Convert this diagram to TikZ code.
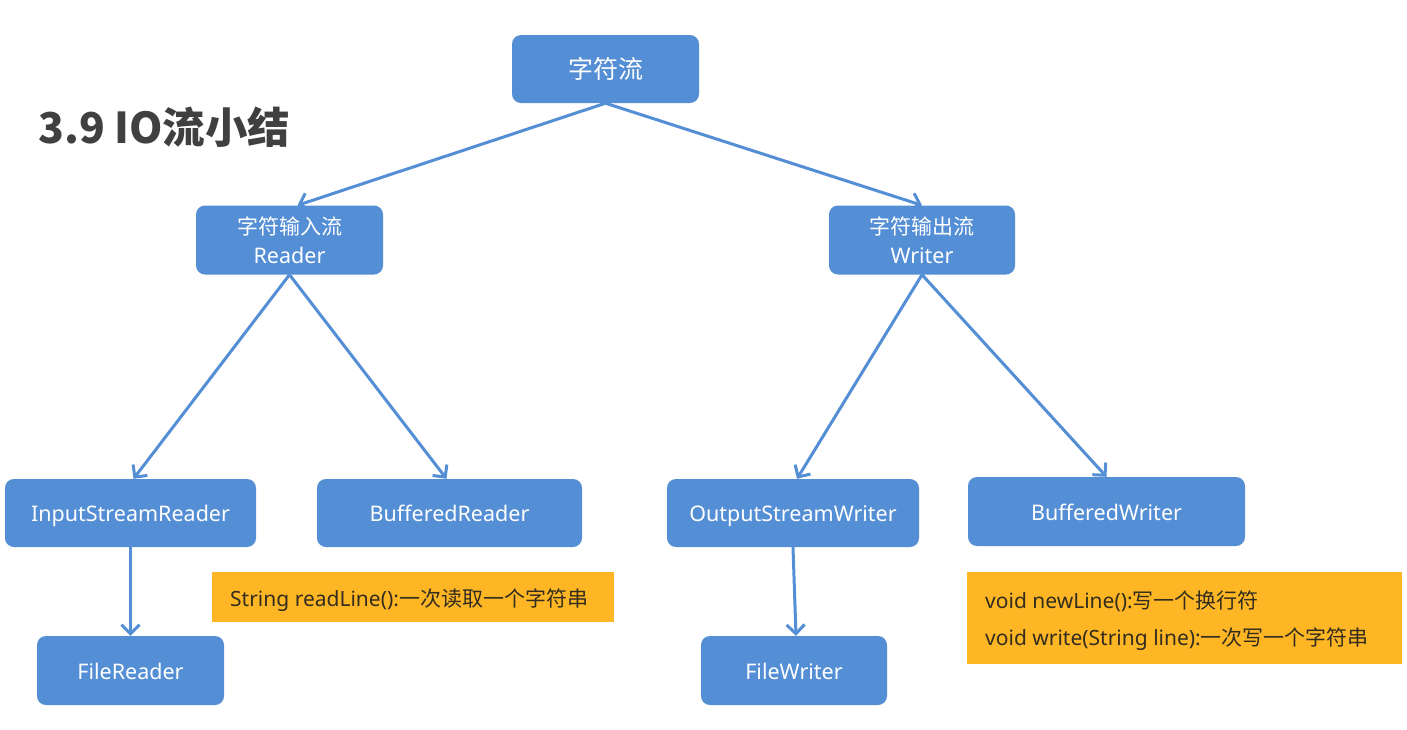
\documentclass[tikz,border=0pt]{standalone}
\usepackage{fontspec}
\setmainfont{Noto Sans}
\newfontfamily\cjk{Noto Sans CJK SC}
\usetikzlibrary{arrows.meta}
\definecolor{boxblue}{RGB}{84,142,213}
\definecolor{noteorange}{RGB}{255,182,37}
\definecolor{titlegray}{RGB}{64,64,64}
\definecolor{notetext}{RGB}{50,45,30}
\newcommand{\zh}[2][21]{{\cjk\fontsize{#1}{29}\selectfont #2}}
\tikzset{
  bluebox/.style={draw=none, fill=boxblue, rounded corners=9pt, text=white,
    font=\fontsize{21.5}{29}\selectfont, align=center, inner sep=0pt},
  onebox/.style={bluebox, text height=20pt, text depth=2.6pt},
  notebox/.style={draw=none, fill=noteorange, inner sep=0pt},
  notetxt/.style={anchor=west, text=notetext, font=\fontsize{21}{22}\selectfont, inner sep=0pt},
  conn/.style={draw=boxblue, line width=3pt, -{Straight Barb[length=9pt,width=18pt,line width=3pt]}},
}
\begin{document}
\begin{tikzpicture}[x=1pt,y=-1pt]
\useasboundingbox[fill=white] (0,0) rectangle (1407,729);
\node[font=\cjk\bfseries\fontsize{42.5}{44}\selectfont, text=titlegray, anchor=west, inner sep=0pt] (title) at (38,127) {3.9 IO流小结};
\node[bluebox, minimum width=187pt, minimum height=68pt] (root) at (605.5,69) {\zh[25]{字符流}};
\node[bluebox, minimum width=187pt, minimum height=69pt] (reader) at (289.5,240) {\zh{字符输入流}\\Reader};
\node[bluebox, minimum width=186pt, minimum height=69pt] (writer) at (922,240) {\zh{字符输出流}\\Writer};
\node[onebox, minimum width=251pt, minimum height=68pt] (isr) at (130.5,513) {InputStreamReader};
\node[onebox, minimum width=265pt, minimum height=68pt] (br) at (449.5,513) {BufferedReader};
\node[onebox, minimum width=252pt, minimum height=68pt] (osw) at (793,513) {OutputStreamWriter};
\node[onebox, minimum width=277pt, minimum height=69pt] (bw) at (1106.5,511.5) {BufferedWriter};
\node[onebox, minimum width=187pt, minimum height=69pt] (fr) at (130.5,670.5) {FileReader};
\node[onebox, minimum width=186pt, minimum height=69pt] (fw) at (794,670.5) {FileWriter};
\node[notebox, minimum width=402pt, minimum height=50pt, anchor=north west] (note1) at (212,572) {};
\node[notetxt] (note1t) at (230,600) {String readLine():\zh{一次读取一个字符串}};
\node[notebox, minimum width=435pt, minimum height=92pt, anchor=north west] (note2) at (967,572) {};
\node[notetxt] (note2a) at (985,601) {void newLine():\zh{写一个换行符}};
\node[notetxt] (note2b) at (985,639) {void write(String line):\zh{一次写一个字符串}};
\draw[conn] (root.south) -- ([xshift=8pt]reader.north);
\draw[conn] (root.south) -- (writer.north);
\draw[conn] (reader.south) -- ([xshift=3pt]isr.north);
\draw[conn] (reader.south) -- ([xshift=-3pt]br.north);
\draw[conn] (writer.south) -- ([xshift=4pt]osw.north);
\draw[conn] (writer.south) -- (bw.north);
\draw[conn] (isr.south) -- (fr.north);
\draw[conn] (osw.south) -- ([xshift=2pt]fw.north);
\end{tikzpicture}
\end{document}
